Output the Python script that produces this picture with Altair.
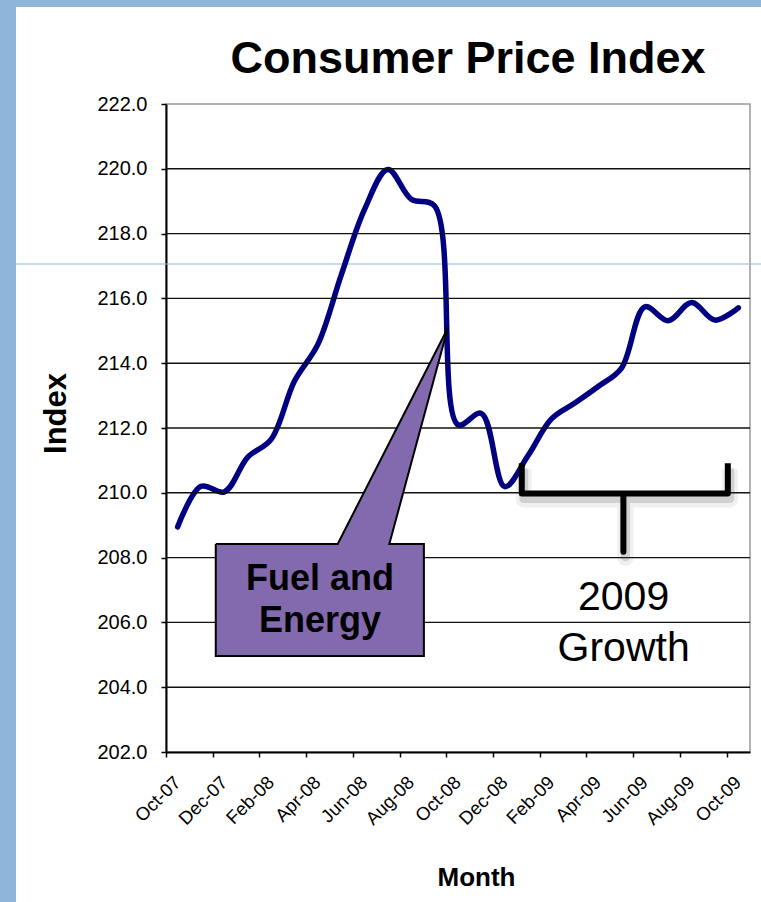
import altair as alt
import pandas as pd

# ---- data -------------------------------------------------------------
months = ["Oct-07", "Nov-07", "Dec-07", "Jan-08", "Feb-08", "Mar-08", "Apr-08",
          "May-08", "Jun-08", "Jul-08", "Aug-08", "Sep-08", "Oct-08", "Nov-08",
          "Dec-08", "Jan-09", "Feb-09", "Mar-09", "Apr-09", "May-09", "Jun-09",
          "Jul-09", "Aug-09", "Sep-09", "Oct-09"]
cpi = [208.95, 210.20, 210.03, 211.10, 211.65, 213.45, 214.58, 216.72, 218.75,
       219.98, 219.06, 218.85, 212.10, 212.45, 210.19, 211.15, 212.28, 212.77,
       213.28, 213.85, 215.74, 215.31, 215.87, 215.33, 215.71]
y_ticks = [202.0, 204.0, 206.0, 208.0, 210.0, 212.0, 214.0, 216.0, 218.0, 220.0, 222.0]
grid_levels = [204.0, 206.0, 208.0, 210.0, 212.0, 214.0, 216.0, 218.0, 220.0]

# annotation anchors, in (month index, index value) units
callout_box = (1.63, 10.54, 204.96, 208.42)           # x, x2, y_bottom, y_top
callout_base = (6.85, 9.06)                            # pointer base on the box top
callout_tip = (11.56, 215.08)                          # pointer tip on the curve
callout_lines = ["Fuel and", "Energy"]
callout_text_x = 6.09
callout_text_y = [207.0, 205.71]
brace_left, brace_mid, brace_right = 14.73, 19.08, 23.55
brace_top, brace_bar, brace_stem = 210.91, 209.98, 208.18
growth_lines = ["2009", "Growth"]
growth_text_x = 19.09
growth_text_y = [206.38, 204.82]

# ---- styling ------------------------------------------------------------
FONT = "Liberation Sans, Arial, Helvetica, sans-serif"
NAVY = "#000080"
PURPLE = "#8369ad"
SLIDE_BLUE = "#8fb5da"
W, H = 584, 648
PAD = {"left": 166, "top": 104, "right": 11, "bottom": 150}

df = pd.DataFrame({"i": list(range(len(months))), "month": months, "cpi": cpi})
one = pd.DataFrame({"k": [0]})

x_scale = alt.Scale(domain=[-0.5, len(months) - 0.5], nice=False, zero=False)
y_scale = alt.Scale(domain=[202, 222], nice=False, zero=False)

# tick marks sit on the boundaries between every second month,
# labels are pushed onto the month they name
tick_vals = [k - 0.5 for k in range(0, len(months), 2)]
label_expr = ("[" + ",".join("'%s'" % m for m in months[::2]) + "]"
              "[round((datum.value + 0.5) / 2)]")

x_axis = alt.Axis(
    values=tick_vals, labelExpr=label_expr, labelAngle=-45, labelAlign="right",
    labelBaseline="middle", labelOffset=11, labelPadding=22, labelFlush=False,
    labelOverlap=False, labelFont=FONT, labelFontSize=18.5, labelColor="black",
    tickSize=5, tickColor="black", tickWidth=1.5, domainColor="black",
    domainWidth=2, grid=False,
    title="Month", titleFont=FONT, titleFontSize=26, titleFontWeight="bold",
    titleColor="black", titleX=310, titleY=133, titleBaseline="alphabetic",
    titleAlign="center")
y_axis = alt.Axis(
    values=y_ticks, format=".1f", labelFont=FONT, labelFontSize=20,
    labelColor="black", labelPadding=14, tickSize=5, tickColor="black",
    tickWidth=1.5, domainColor="black", domainWidth=2, grid=False,
    title="Index", titleFont=FONT, titleFontSize=31, titleFontWeight="bold",
    titleColor="black", titleAngle=270, titleX=-101, titleY=309,
    titleBaseline="alphabetic", titleAlign="center")

# shared positional channels for the annotation layers (axes come from the line)
def xq(field):
    return alt.X(field, type="quantitative", scale=x_scale)


def yq(field):
    return alt.Y(field, type="quantitative", scale=y_scale)


# ---- slide backdrop: blue frame strips on the left and top ----------------
left_strip = alt.Chart(one).mark_rect(fill=SLIDE_BLUE).encode(
    x=alt.value(-PAD["left"]), x2=alt.value(-150),
    y=alt.value(-PAD["top"]), y2=alt.value(H + PAD["bottom"]))
top_strip = alt.Chart(one).mark_rect(fill=SLIDE_BLUE).encode(
    x=alt.value(-PAD["left"]), x2=alt.value(W + PAD["right"]),
    y=alt.value(-PAD["top"]), y2=alt.value(-97))
guide = alt.Chart(one).mark_rule(color=SLIDE_BLUE, strokeWidth=1).encode(
    x=alt.value(-PAD["left"]), x2=alt.value(W + PAD["right"]), y=alt.value(160))
title = alt.Chart(one).mark_text(
    text="Consumer Price Index", font=FONT, fontSize=45, fontWeight="bold",
    align="center", baseline="alphabetic", color="black").encode(
    x=alt.value(302), y=alt.value(-31))

# ---- CPI line (owns both axes) -------------------------------------------------
line = alt.Chart(df).mark_line(
    color=NAVY, strokeWidth=5.5, interpolate="catmull-rom", strokeCap="round",
    strokeJoin="round").encode(
    x=alt.X("i:Q", scale=x_scale, axis=x_axis),
    y=alt.Y("cpi:Q", scale=y_scale, axis=y_axis),
    order="i:Q")

# ---- grid -------------------------------------------------------------------
grid = alt.Chart(pd.DataFrame({"v": grid_levels})).mark_rule(
    color="#111111", strokeWidth=1.4).encode(y=yq("v"))

# ---- "Fuel and Energy" callout -------------------------------------------------
bx, bx2, by0, by1 = callout_box
box = alt.Chart(pd.DataFrame({"x": [bx], "x2": [bx2], "y": [by0], "y2": [by1]})).mark_rect(
    fill=PURPLE).encode(x=xq("x"), x2="x2:Q", y=yq("y"), y2="y2:Q")

tx, ty = callout_tip
dy_in = 0.12  # let the pointer overlap the box edge so the two read as one shape
slope_l = (tx - callout_base[0]) / (ty - by1)
slope_r = (tx - callout_base[1]) / (ty - by1)
pointer = alt.Chart(pd.DataFrame({
    "y": [by1 - dy_in, ty],
    "xl": [callout_base[0] - slope_l * dy_in, tx],
    "xr": [callout_base[1] - slope_r * dy_in, tx]})).mark_area(
    orient="horizontal", color=PURPLE, opacity=1).encode(
    y=yq("y"), x=xq("xl"), x2="xr:Q")

outline_pts = [(bx, by1), (callout_base[0], by1), (tx, ty), (callout_base[1], by1),
               (bx2, by1), (bx2, by0), (bx, by0), (bx, by1)]
outline = alt.Chart(pd.DataFrame({
    "x": [p[0] for p in outline_pts], "y": [p[1] for p in outline_pts],
    "o": list(range(len(outline_pts)))})).mark_line(
    color="black", strokeWidth=2, strokeJoin="miter").encode(
    x=xq("x"), y=yq("y"), order="o:Q")

callout_text = alt.Chart(pd.DataFrame({
    "x": [callout_text_x] * 2, "y": callout_text_y, "t": callout_lines})).mark_text(
    font=FONT, fontSize=36, fontWeight="bold", align="center",
    baseline="alphabetic", color="black").encode(x=xq("x"), y=yq("y"), text="t:N")

# ---- 2009 growth brace ------------------------------------------------------------
brace_pts = [(brace_left, brace_top), (brace_left, brace_bar), (brace_mid, brace_bar),
             (brace_mid, brace_stem), (brace_mid, brace_bar), (brace_right, brace_bar),
             (brace_right, brace_top)]
brace_df = pd.DataFrame({
    "x": [p[0] for p in brace_pts], "y": [p[1] for p in brace_pts],
    "o": list(range(len(brace_pts)))})


def brace_layer(color, width, opacity, dx=0, dy=0):
    return alt.Chart(brace_df).mark_line(
        color=color, strokeWidth=width, opacity=opacity, strokeJoin="round",
        strokeCap="butt", xOffset=dx, yOffset=dy).encode(
        x=xq("x"), y=yq("y"), order="o:Q")


brace_shadow_wide = brace_layer("#444444", 16, 0.08, 2, 6)
brace_shadow = brace_layer("#444444", 9, 0.18, 2, 5)
brace = brace_layer("black", 6, 1)

growth_text = alt.Chart(pd.DataFrame({
    "x": [growth_text_x] * 2, "y": growth_text_y, "t": growth_lines})).mark_text(
    font=FONT, fontSize=41, align="center", baseline="alphabetic",
    color="black").encode(x=xq("x"), y=yq("y"), text="t:N")

chart = alt.layer(
    left_strip, top_strip, guide, title, line, grid, box, pointer, outline,
    callout_text, brace_shadow_wide, brace_shadow, brace, growth_text
).properties(
    width=W, height=H, padding=PAD, autosize=alt.AutoSizeParams(type="none"),
    background="white"
).configure_view(stroke="#9a9a9a", strokeWidth=1.5)

chart.save("out.html", embed_options={"renderer": "svg", "actions": False})
